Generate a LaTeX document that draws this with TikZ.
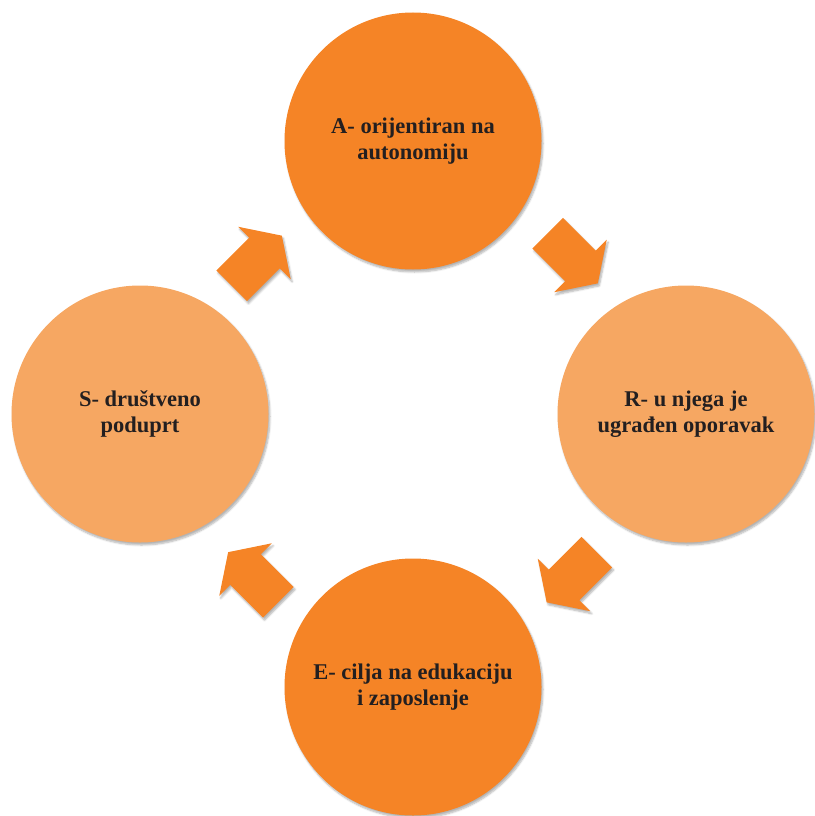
\documentclass[tikz,border=0pt]{standalone}
\usepackage{fontspec}
\setmainfont{Liberation Serif}
\usetikzlibrary{shapes.arrows,shadows.blur}
\definecolor{darkorange}{HTML}{F58426}
\definecolor{lightorange}{HTML}{F6A762}
\definecolor{textgray}{HTML}{231F20}
\tikzset{
  softshadow/.style={blur shadow={shadow xshift=1.5pt,shadow yshift=-2.5pt,shadow opacity=30,shadow blur steps=6}},
  stage/.style={circle,minimum size=257pt,inner sep=0pt,align=center,text=textgray,
    font=\bfseries\fontsize{22.5}{26}\selectfont,softshadow},
  turn/.style={single arrow,fill=darkorange,anchor=tail,inner xsep=0pt,inner ysep=21.5pt,
    minimum height=71pt,single arrow head extend=15.5pt,single arrow tip angle=113,softshadow}
}
\begin{document}
\begin{tikzpicture}[x=1pt,y=-1pt]
                \useasboundingbox (0,0) rectangle (814,816);
                %% Stages
                \node[stage,fill=darkorange]  (A) at (413,141) {A- orijentiran na\\autonomiju};
                \node[stage,fill=lightorange] (R) at (686,414) {R- u njega je\\ugrađen oporavak};
                \node[stage,fill=darkorange]  (E) at (413,687) {E- cilja na edukaciju\\i zaposlenje};
                \node[stage,fill=lightorange] (S) at (140,414) {S- društveno\\poduprt};
                %% Arrows
                \node[turn,rotate=-45]  (AR) at (547.5,233) {};
                \node[turn,rotate=-135] (RE) at (597,552) {};
                \node[turn,rotate=135]  (ES) at (278.5,602.5) {};
                \node[turn,rotate=45]   (SA) at (231.5,286) {};
            \end{tikzpicture}
\end{document}
